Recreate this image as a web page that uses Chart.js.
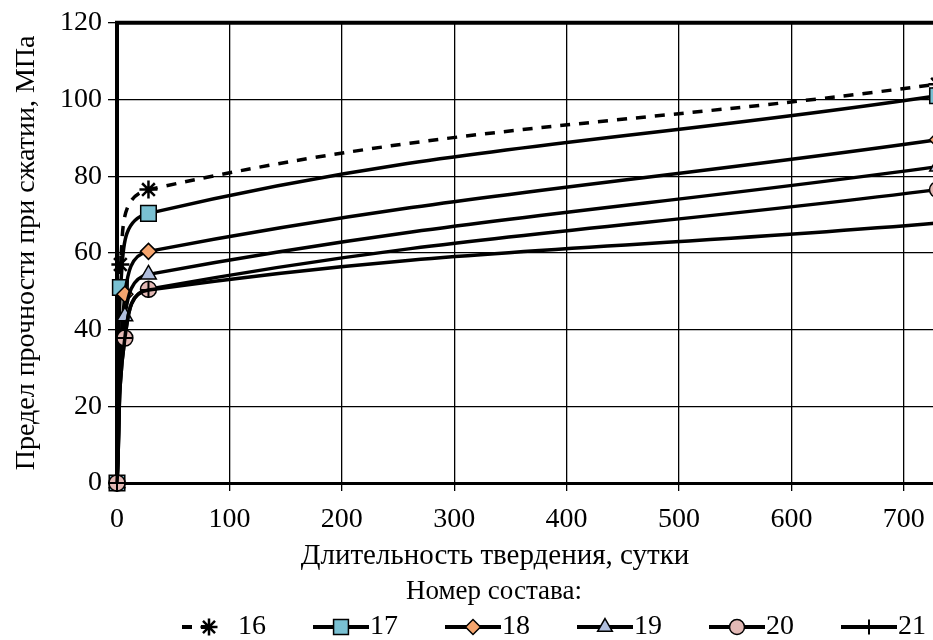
<!DOCTYPE html>
<html>
<head>
<meta charset="utf-8">
<script src="https://cdn.jsdelivr.net/npm/chart.js@4"></script>
<style>
  html, body { margin: 0; padding: 0; background: #fff; overflow: hidden; }
  #wrap { width: 950px; height: 640px; }
</style>
</head>
<body>
<div id="wrap"><canvas id="grafico" width="950" height="640"></canvas></div>
<script>
// Номера составов
const sostavy = ["16", "17", "18", "19", "20", "21"];

// Длительность твердения, сутки (для каждого состава)
const sutki16 = [0, 3, 28, 730];
const sutki17 = [0, 3, 28, 730];
const sutki18 = [0, 7, 28, 730];
const sutki19 = [0, 7, 28, 730];
const sutki20 = [0, 7, 28, 730];
const sutki21 = [0, 7, 28, 730];

// Предел прочности при сжатии, МПа
const prochnost16 = [0, 57, 76.5, 104];
const prochnost17 = [0, 51, 70.3, 101];
const prochnost18 = [0, 49.2, 60.4, 89.5];
const prochnost19 = [0, 43.5, 54.4, 82.5];
const prochnost20 = [0, 37.8, 50.5, 76.5];
const prochnost21 = [0, 37.8, 50.3, 67.8];

const yMax = 120, yStep = 20;
const xMax = 730, xStep = 100;

const FONT = "'Liberation Serif', 'Times New Roman', serif";

function points(xs, ys) {
  return xs.map((x, i) => ({ x: x, y: ys[i] }));
}

// стиль маркеров для каждого состава
const markers = [
  { style: "star", r: 9, bw: 2.5, fill: "#000", dash: [10, 9] },
  { style: "rect", r: 11, bw: 1.5, fill: "#79C0D2", dash: [] },
  { style: "rectRot", r: 8, bw: 1.5, fill: "#F5A56E", dash: [] },
  { style: "triangle", r: 9, bw: 1.5, fill: "#B0BEDD", dash: [] },
  { style: "circle", r: 8, bw: 1.5, fill: "#E3B9B5", dash: [] },
  { style: "cross", r: 8, bw: 2, fill: "#000", dash: [] },
];

const allX = [sutki16, sutki17, sutki18, sutki19, sutki20, sutki21];
const allY = [prochnost16, prochnost17, prochnost18, prochnost19, prochnost20, prochnost21];

const datasets = sostavy.map((name, i) => ({
  label: name,
  data: points(allX[i], allY[i]),
  borderColor: "#000",
  borderWidth: 3.5,
  borderDash: markers[i].dash,
  tension: 0.4,
  pointStyle: markers[i].style,
  pointRadius: markers[i].r,
  pointBackgroundColor: markers[i].fill,
  pointBorderColor: "#000",
  pointBorderWidth: markers[i].bw,
  order: sostavy.length - i,
  clip: false,
}));

// рамка сверху, подпись оси X и легенда
const oformlenie = {
  id: "oformlenie",
  afterDatasetsDraw(chart) {
    const { ctx, chartArea } = chart;
    ctx.save();
    ctx.strokeStyle = "#000";
    ctx.lineWidth = 4;
    ctx.beginPath();
    ctx.moveTo(chartArea.left - 2, chartArea.top);
    ctx.lineTo(chartArea.right, chartArea.top);
    ctx.stroke();
    ctx.restore();
  },
  afterDraw(chart) {
    const ctx = chart.ctx;
    ctx.save();
    ctx.fillStyle = "#000";
    ctx.font = "29px " + FONT;
    ctx.textAlign = "center";
    ctx.textBaseline = "middle";
    ctx.fillText("Длительность твердения, сутки", 495, 556);
    ctx.font = "27px " + FONT;
    ctx.fillText("Номер состава:", 494, 592);

    const y = 627;
    sostavy.forEach((name, i) => {
      const cx = 209 + i * 132;
      const x0 = i === 0 ? cx - 27 : cx - 28;
      const x1 = i === 0 ? cx + 8 : cx + 28;
      ctx.save();
      ctx.strokeStyle = "#000";
      ctx.lineWidth = 4;
      ctx.setLineDash(markers[i].dash);
      ctx.beginPath();
      ctx.moveTo(x0, y);
      ctx.lineTo(x1, y);
      ctx.stroke();
      ctx.restore();
      ctx.save();
      ctx.fillStyle = markers[i].fill;
      ctx.strokeStyle = "#000";
      ctx.lineWidth = markers[i].bw;
      Chart.helpers.drawPoint(ctx, { pointStyle: markers[i].style, radius: markers[i].r - 0.5, rotation: 0, borderWidth: markers[i].bw }, cx, y);
      ctx.restore();
      ctx.fillStyle = "#000";
      ctx.font = "28px " + FONT;
      ctx.textAlign = "left";
      ctx.fillText(name, cx + 29, y);
    });
    ctx.restore();
  },
};

const ctx = document.getElementById("grafico");

new Chart(ctx, {
  type: "line",
  data: { datasets: datasets },
  plugins: [oformlenie],
  options: {
    responsive: false,
    animation: false,
    layout: { padding: { top: 20, right: 11, left: 0, bottom: 0 } },
    plugins: {
      legend: { display: false },
      tooltip: { enabled: false },
    },
    scales: {
      x: {
        type: "linear",
        min: 0,
        max: xMax,
        ticks: {
          stepSize: xStep,
          includeBounds: false,
          color: "#000",
          font: { family: FONT, size: 28 },
          padding: 12,
          maxRotation: 0,
        },
        grid: { color: "#000", lineWidth: 1.3, tickLength: 8, tickColor: "#000" },
        border: { color: "#000", width: 3 },
        afterFit(scale) { scale.height = 640 - 483; },
      },
      y: {
        min: 0,
        max: yMax,
        ticks: {
          stepSize: yStep,
          color: "#000",
          font: { family: FONT, size: 28 },
          padding: 6,
        },
        grid: { color: "#000", lineWidth: 1.3, tickLength: 9, tickColor: "#000" },
        border: { color: "#000", width: 4 },
        title: {
          display: true,
          text: "Предел прочности при сжатии, МПа",
          color: "#000",
          font: { family: FONT, size: 28 },
          padding: { top: 10, bottom: 0 },
        },
        afterFit(scale) { scale.width = 117; },
      },
    },
  },
});
</script>
</body>
</html>
